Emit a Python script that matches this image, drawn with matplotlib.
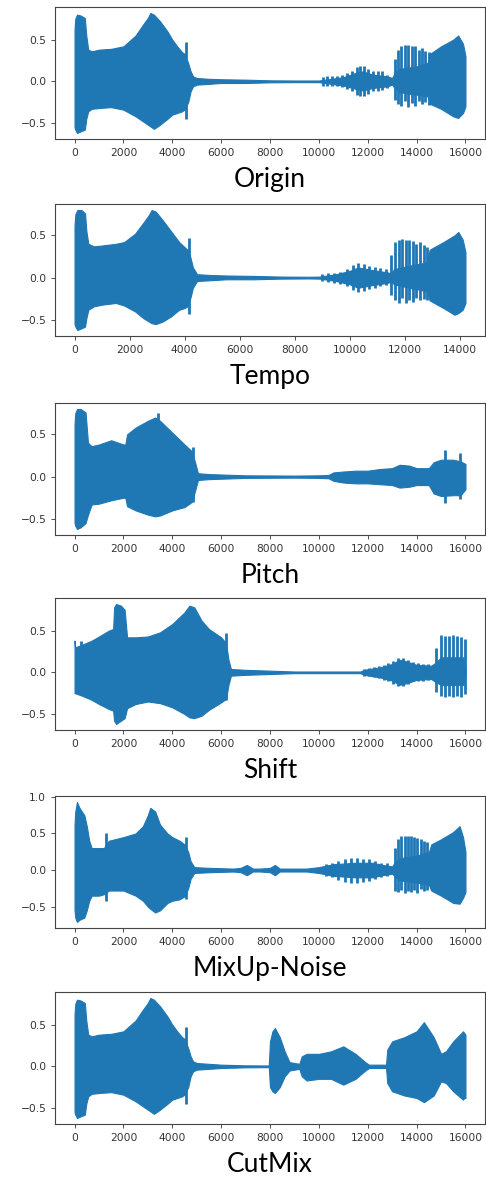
import matplotlib
matplotlib.use("Agg")
import matplotlib.pyplot as plt
from matplotlib.ticker import MultipleLocator

# -------------------------------
# waveform envelopes (sample index, upper, lower)
# plus the separate spikes / bursts drawn as thin vertical strokes
# -------------------------------
origin_x = [0, 30, 100, 250, 420, 480, 560, 700, 1000, 1500, 2000, 2500, 2800, 3000, 3100, 3250, 3500, 3800, 4000, 4200,
            4400, 4500, 4650, 4750, 4850, 5000, 5500, 6000, 7000, 8000, 9000,
            10000, 10500, 11000, 11500, 11800, 12200, 12800, 13000, 13100, 13300, 14000, 14450, 14550, 15000, 15500,
            15700, 15900, 16000]
origin_hi = [0.62, 0.75, 0.80, 0.79, 0.76, 0.55, 0.38, 0.36, 0.38, 0.39, 0.42, 0.55, 0.68, 0.76, 0.82, 0.80, 0.72, 0.60,
             0.50, 0.42, 0.35, 0.33, 0.22, 0.12, 0.06, 0.04, 0.03, 0.025, 0.02, 0.012, 0.01,
             0.01, 0.03, 0.05, 0.1, 0.12, 0.08, 0.06, 0.04, 0.1, 0.15, 0.18, 0.22, 0.33, 0.42, 0.5, 0.55, 0.45, 0.3]
origin_lo = [-0.55, -0.58, -0.62, -0.6, -0.58, -0.45, -0.36, -0.33, -0.32, -0.31, -0.34, -0.42, -0.48, -0.52, -0.54,
             -0.57, -0.52, -0.45, -0.40, -0.38, -0.36, -0.34, -0.25, -0.12, -0.06, -0.04, -0.03, -0.02, -0.02, -0.012,
             -0.01,
             -0.01, -0.03, -0.05, -0.09, -0.11, -0.08, -0.06, -0.04, -0.08, -0.13, -0.16, -0.18, -0.27, -0.33, -0.42,
             -0.44, -0.38, -0.3]
origin_spk_x = [4550, 10150, 10350, 10550, 10750, 10950, 11150, 11350, 11550, 11700, 11850, 12000, 12200, 12400, 12600,
                12800, 13100, 13240, 13380, 13520, 13660, 13800, 13940, 14080, 14220, 14360, 14500]
origin_spk_hi = [0.47, 0.05, 0.06, 0.06, 0.07, 0.08, 0.1, 0.13, 0.17, 0.18, 0.18, 0.15, 0.13, 0.12, 0.12,
                 0.08, 0.27, 0.38, 0.42, 0.44, 0.44, 0.43, 0.42, 0.38, 0.40, 0.36, 0.35]
origin_spk_lo = [-0.45, -0.05, -0.05, -0.06, -0.06, -0.07, -0.09, -0.12, -0.16, -0.18, -0.17, -0.15, -0.12, -0.11,
                 -0.1, -0.08, -0.22, -0.27, -0.30, -0.24, -0.31, -0.26, -0.29, -0.24, -0.27, -0.25, -0.28]

tempo_x = [0, 30, 100, 250, 380, 430, 500, 700, 1000, 1500, 1800, 2200, 2500, 2700, 2800, 2950, 3200, 3500, 3800, 4000,
           4100, 4200, 4300, 4450, 5000, 5500, 6500, 7500, 8500,
           8900, 9500, 10000, 10300, 10800, 11400, 11500, 11600, 12300, 12800, 12900, 13400, 13800, 13940, 14100, 14200]
tempo_hi = [0.62, 0.75, 0.80, 0.80, 0.76, 0.55, 0.40, 0.37, 0.38, 0.40, 0.42, 0.52, 0.65, 0.74, 0.80, 0.78, 0.68, 0.55,
            0.42, 0.36, 0.33, 0.25, 0.12, 0.04, 0.03, 0.025, 0.02, 0.012, 0.01,
            0.012, 0.04, 0.08, 0.12, 0.09, 0.06, 0.04, 0.1, 0.15, 0.18, 0.33, 0.42, 0.5, 0.54, 0.45, 0.3]
tempo_lo = [-0.55, -0.58, -0.62, -0.6, -0.58, -0.48, -0.38, -0.34, -0.32, -0.30, -0.33, -0.40, -0.48, -0.52, -0.54,
            -0.55, -0.52, -0.46, -0.38, -0.36, -0.34, -0.25, -0.12, -0.04, -0.03, -0.02, -0.02, -0.012, -0.01,
            -0.012, -0.04, -0.08, -0.12, -0.09, -0.06, -0.04, -0.08, -0.13, -0.16, -0.27, -0.36, -0.44, -0.42, -0.38,
            -0.3]
tempo_spk_x = [4150, 9000, 9220, 9440, 9660, 9880, 10100, 10300, 10500, 10700, 10900, 11100, 11300,
               11510, 11640, 11770, 11900, 12030, 12160, 12290, 12420, 12550, 12680, 12810]
tempo_spk_hi = [0.47, 0.04, 0.05, 0.06, 0.07, 0.1, 0.15, 0.17, 0.16, 0.14, 0.12, 0.11, 0.1,
                0.27, 0.42, 0.45, 0.46, 0.44, 0.44, 0.43, 0.40, 0.42, 0.38, 0.36]
tempo_spk_lo = [-0.43, -0.04, -0.05, -0.06, -0.07, -0.1, -0.15, -0.175, -0.16, -0.13, -0.12, -0.1, -0.09,
                -0.2, -0.26, -0.3, -0.24, -0.3, -0.26, -0.29, -0.24, -0.27, -0.25, -0.27]

pitch_x = [0, 30, 100, 250, 450, 550, 700, 1000, 1500, 2000, 2080, 2150, 2500, 3000, 3300, 3500, 4000, 4500, 4800, 4950,
           5050, 5500, 7000, 9000,
           10000, 10400, 10600, 11000, 11500, 12000, 12500, 13000, 13300, 13700, 14000, 14500, 14700, 15000, 15500,
           15800, 16000]
pitch_hi = [0.62, 0.75, 0.80, 0.80, 0.76, 0.40, 0.36, 0.38, 0.43, 0.38, 0.38, 0.50, 0.58, 0.66, 0.70, 0.66, 0.52, 0.38,
            0.30, 0.15, 0.04, 0.03, 0.015, 0.012,
            0.015, 0.02, 0.05, 0.06, 0.07, 0.07, 0.09, 0.1, 0.14, 0.13, 0.1, 0.1, 0.17, 0.2, 0.2, 0.18, 0.15]
pitch_lo = [-0.55, -0.58, -0.62, -0.6, -0.55, -0.45, -0.33, -0.32, -0.28, -0.25, -0.25, -0.35, -0.40, -0.45, -0.47,
            -0.46, -0.40, -0.36, -0.30, -0.15, -0.04, -0.03, -0.015, -0.012,
            -0.015, -0.02, -0.05, -0.07, -0.08, -0.08, -0.09, -0.1, -0.13, -0.12, -0.1, -0.1, -0.2, -0.23, -0.22,
            -0.22, -0.15]
pitch_spk_x = [3400, 4850, 15160, 15780]
pitch_spk_hi = [0.75, 0.35, 0.32, 0.28]
pitch_spk_lo = [-0.45, -0.30, -0.31, -0.27]

shift_x = [0, 20, 300, 700, 1000, 1400, 1580, 1620, 1700, 1900, 2050, 2150, 2500, 3000, 3500, 4000, 4500, 4700, 4900,
           5200, 5500, 6000, 6200, 6300, 6400, 7000, 8000, 9000,
           11700, 11850, 12500, 13000, 13300, 13600, 14000, 14600, 14800, 15000, 15500, 15900, 16000]
shift_hi = [0.38, 0.3, 0.33, 0.38, 0.43, 0.50, 0.52, 0.78, 0.82, 0.80, 0.75, 0.42, 0.42, 0.43, 0.48, 0.58, 0.72, 0.80,
            0.78, 0.62, 0.52, 0.42, 0.35, 0.15, 0.04, 0.03, 0.02, 0.01,
            0.01, 0.03, 0.06, 0.1, 0.15, 0.13, 0.09, 0.08, 0.12, 0.18, 0.18, 0.18, 0.05]
shift_lo = [-0.25, -0.25, -0.28, -0.33, -0.38, -0.44, -0.46, -0.58, -0.62, -0.58, -0.55, -0.43, -0.38, -0.35, -0.37,
            -0.42, -0.50, -0.54, -0.55, -0.52, -0.45, -0.36, -0.32, -0.15, -0.04, -0.03, -0.02, -0.01,
            -0.01, -0.03, -0.06, -0.1, -0.15, -0.13, -0.09, -0.08, -0.12, -0.15, -0.15, -0.15, -0.05]
shift_spk_x = [250, 6200, 11850, 12050, 12250, 12450, 12650, 12850, 13050, 13250, 13450, 13650, 13850, 14050, 14250,
               14450, 14800, 14980, 15160, 15320, 15500, 15670, 15820, 15980]
shift_spk_hi = [0.38, 0.47, 0.04, 0.05, 0.06, 0.07, 0.09, 0.11, 0.14, 0.17, 0.17, 0.15, 0.12, 0.11, 0.1,
                0.1, 0.29, 0.45, 0.44, 0.43, 0.45, 0.44, 0.42, 0.40]
shift_spk_lo = [-0.20, -0.33, -0.04, -0.05, -0.06, -0.07, -0.09, -0.11, -0.14, -0.16, -0.16, -0.14, -0.11, -0.1, -0.1,
                -0.09, -0.24, -0.28, -0.3, -0.28, -0.3, -0.28, -0.3, -0.26]

mixup_x = [0, 30, 100, 200, 400, 500, 600, 700, 1000, 1200, 1400, 2000, 2500, 2800, 3000, 3100, 3300, 3500, 3800, 4000,
           4300, 4500, 4650, 4750, 4900, 5500, 6500, 6800, 7050, 7300, 7600, 8000, 8200, 8400, 8700,
           9500, 10000, 10600, 11500, 12200, 12600, 13000, 13100, 13300, 14000, 14500, 14600, 15000, 15500, 15760,
           15900, 16000]
mixup_hi = [0.62, 0.8, 0.93, 0.85, 0.75, 0.6, 0.4, 0.3, 0.3, 0.3, 0.4, 0.45, 0.5, 0.6, 0.75, 0.85, 0.8, 0.62, 0.5, 0.45,
            0.4, 0.35, 0.25, 0.12, 0.04, 0.03, 0.02, 0.03, 0.07, 0.02, 0.02, 0.03, 0.07, 0.02, 0.02,
            0.02, 0.04, 0.08, 0.1, 0.1, 0.07, 0.05, 0.1, 0.16, 0.2, 0.24, 0.35, 0.42, 0.52, 0.6, 0.45, 0.25]
mixup_lo = [-0.55, -0.65, -0.71, -0.68, -0.65, -0.55, -0.42, -0.35, -0.35, -0.33, -0.28, -0.28, -0.35, -0.42, -0.5,
            -0.53, -0.58, -0.55, -0.45, -0.42, -0.40, -0.36, -0.25, -0.12, -0.04, -0.03, -0.02, -0.03, -0.07, -0.02,
            -0.02, -0.03, -0.07, -0.02, -0.02,
            -0.02, -0.04, -0.08, -0.1, -0.1, -0.07, -0.05, -0.08, -0.14, -0.17, -0.2, -0.28, -0.35, -0.45, -0.46,
            -0.38, -0.3]
mixup_spk_x = [1300, 4550, 10300, 10550, 10800, 11050, 11300, 11550, 11800, 12050, 12300, 12550, 12800,
               13120, 13250, 13380, 13510, 13640, 13770, 13900, 14030, 14160, 14290, 14420]
mixup_spk_hi = [0.51, 0.45, 0.08, 0.1, 0.13, 0.15, 0.16, 0.17, 0.15, 0.15, 0.12, 0.1, 0.09,
                0.30, 0.42, 0.46, 0.47, 0.46, 0.47, 0.45, 0.44, 0.42, 0.40, 0.38]
mixup_spk_lo = [-0.42, -0.40, -0.08, -0.1, -0.13, -0.16, -0.18, -0.18, -0.17, -0.15, -0.12, -0.1, -0.08,
                -0.28, -0.3, -0.27, -0.32, -0.28, -0.3, -0.27, -0.31, -0.26, -0.29, -0.27]

cutmix_x = [0, 30, 100, 250, 420, 480, 560, 700, 1000, 1500, 2000, 2500, 2800, 3000, 3100, 3250, 3500, 3800, 4000, 4200,
            4400, 4500, 4650, 4750, 4850, 5000, 5500, 6000, 7000, 7950, 8000, 8100, 8200, 8400, 8600, 8800, 9200, 9300,
            9500, 10000, 10500, 11000, 11500, 11900, 12050, 12750, 12800, 13000, 13500, 14000, 14300, 14700, 15000,
            15200, 15500, 15900, 15950, 16000]
cutmix_hi = [0.62, 0.75, 0.80, 0.79, 0.76, 0.55, 0.38, 0.36, 0.38, 0.39, 0.42, 0.55, 0.68, 0.76, 0.82, 0.80, 0.72, 0.60,
             0.50, 0.42, 0.35, 0.33, 0.22, 0.12, 0.06, 0.04, 0.03, 0.02, 0.012, 0.01, 0.3, 0.42, 0.46, 0.35, 0.18,
             0.05, 0.03, 0.12, 0.15, 0.15, 0.18, 0.24, 0.15, 0.05, 0.02, 0.02, 0.2, 0.3, 0.35, 0.42, 0.53, 0.35, 0.15,
             0.18, 0.3, 0.42, 0.4, 0.38]
cutmix_lo = [-0.55, -0.58, -0.62, -0.6, -0.58, -0.45, -0.36, -0.33, -0.32, -0.31, -0.34, -0.42, -0.48, -0.52, -0.54,
             -0.57, -0.52, -0.45, -0.40, -0.38, -0.36, -0.34, -0.25, -0.12, -0.06, -0.04, -0.03, -0.02, -0.012, -0.01,
             -0.25, -0.3, -0.32, -0.25, -0.12, -0.05, -0.03, -0.12, -0.17, -0.15, -0.15, -0.22, -0.15, -0.05, -0.02,
             -0.02, -0.2, -0.3, -0.35, -0.38, -0.43, -0.35, -0.18, -0.2, -0.3, -0.4, -0.38, -0.38]
cutmix_spk_x = [4550]
cutmix_spk_hi = [0.47]
cutmix_spk_lo = [-0.45]

titles = ["Origin", "Tempo", "Pitch", "Shift", "MixUp-Noise", "CutMix"]
panels = [
    (origin_x, origin_hi, origin_lo, origin_spk_x, origin_spk_hi, origin_spk_lo),
    (tempo_x, tempo_hi, tempo_lo, tempo_spk_x, tempo_spk_hi, tempo_spk_lo),
    (pitch_x, pitch_hi, pitch_lo, pitch_spk_x, pitch_spk_hi, pitch_spk_lo),
    (shift_x, shift_hi, shift_lo, shift_spk_x, shift_spk_hi, shift_spk_lo),
    (mixup_x, mixup_hi, mixup_lo, mixup_spk_x, mixup_spk_hi, mixup_spk_lo),
    (cutmix_x, cutmix_hi, cutmix_lo, cutmix_spk_x, cutmix_spk_hi, cutmix_spk_lo),
]

# -------------------------------
# layout (pixel tops of each axes in a 486x1178 canvas)
# -------------------------------
W, H = 486, 1178
tops = [7, 204, 403, 598, 796, 992]
ax_h = 132
ax_left, ax_right = 55, 485
wave_color = "#1f77b4"

fig = plt.figure(figsize=(W / 100, H / 100), dpi=100)

for top, title, (x, hi, lo, sx, shi, slo) in zip(tops, titles, panels):
    ax = fig.add_axes([ax_left / W, 1 - (top + ax_h) / H, (ax_right - ax_left) / W, ax_h / H])
    ax.fill_between(x, lo, hi, color=wave_color, linewidth=0.8, edgecolor=wave_color)
    ax.vlines(sx, slo, shi, color=wave_color, linewidth=2.0)
    ax.margins(x=0.05, y=0.05)
    ax.xaxis.set_major_locator(MultipleLocator(2000))
    ax.yaxis.set_major_locator(MultipleLocator(0.5))
    ax.tick_params(labelsize=7.7, colors="#333333", length=2.8, width=0.6)
    for sp in ax.spines.values():
        sp.set_color("#444444")
        sp.set_linewidth(0.8)
    ax.text(0.5, -0.31, title, transform=ax.transAxes, ha="center", va="center",
            fontsize=19, family=["Lato", "DejaVu Sans"], color="black")

fig.savefig("out.png", dpi=100)
